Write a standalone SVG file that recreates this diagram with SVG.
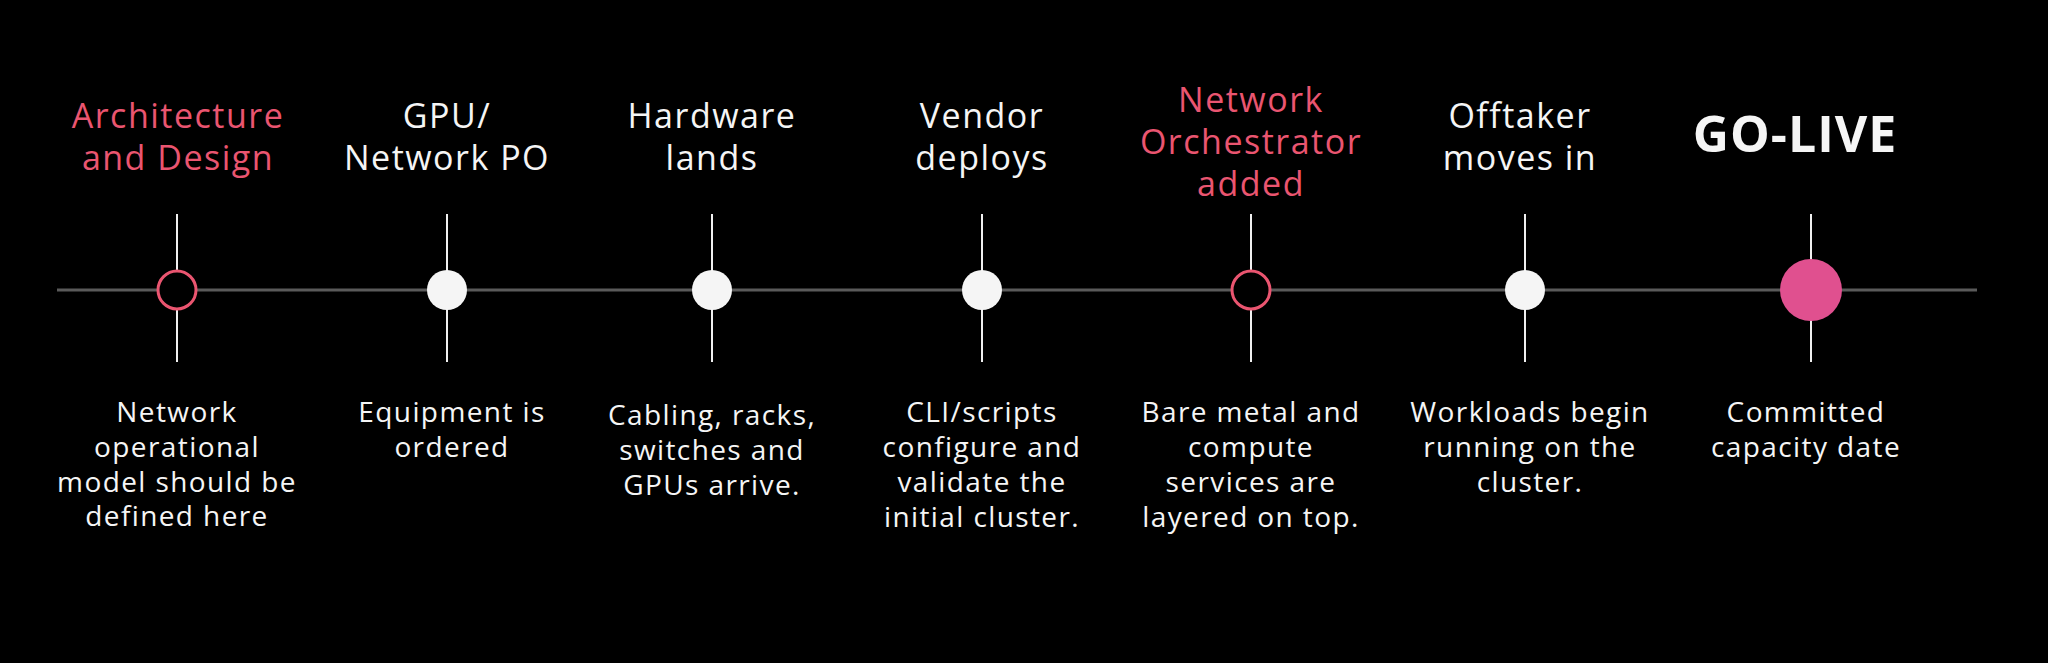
<svg xmlns="http://www.w3.org/2000/svg" width="2048" height="663" viewBox="0 0 2048 663">
<style>
.t{font-family:"Open Sans","Liberation Sans",sans-serif;font-size:34px;letter-spacing:1.5px;fill:#f5f5f5;text-anchor:middle}
.p{fill:#ea5570}
.d{font-family:"Open Sans","Liberation Sans",sans-serif;font-size:28px;letter-spacing:1.4px;fill:#f5f5f5;text-anchor:middle}
.tick{stroke:#f0f0f0;stroke-width:2}
.dot{fill:#f5f5f5}
.ring{fill:#000;stroke:#ea5570;stroke-width:3}
</style>
<rect width="2048" height="663" fill="#000"/>
<g id="connectors"><line x1="57" y1="290" x2="1977" y2="290" stroke="#5a5a5a" stroke-width="3"/></g>
<g id="n1"><line class="tick" x1="177" y1="214" x2="177" y2="362"/><circle class="ring" cx="177" cy="290" r="19"/>
<text class="t p" x="178" y="128">Architecture</text><text class="t p" x="178" y="170">and Design</text>
<text class="d" x="177" y="422">Network</text><text class="d" x="177" y="457">operational</text><text class="d" x="177" y="492">model should be</text><text class="d" x="177" y="526">defined here</text></g>
<g id="n2"><line class="tick" x1="447" y1="214" x2="447" y2="362"/><circle class="dot" cx="447" cy="290" r="20"/>
<text class="t" x="447" y="128">GPU/</text><text class="t" x="447" y="170">Network PO</text>
<text class="d" x="452" y="422">Equipment is</text><text class="d" x="452" y="457">ordered</text></g>
<g id="n3"><line class="tick" x1="712" y1="214" x2="712" y2="362"/><circle class="dot" cx="712" cy="290" r="20"/>
<text class="t" x="712" y="128">Hardware</text><text class="t" x="712" y="170">lands</text>
<text class="d" x="712" y="425">Cabling, racks,</text><text class="d" x="712" y="460">switches and</text><text class="d" x="712" y="495">GPUs arrive.</text></g>
<g id="n4"><line class="tick" x1="982" y1="214" x2="982" y2="362"/><circle class="dot" cx="982" cy="290" r="20"/>
<text class="t" x="982" y="128">Vendor</text><text class="t" x="982" y="170">deploys</text>
<text class="d" x="982" y="422">CLI/scripts</text><text class="d" x="982" y="457">configure and</text><text class="d" x="982" y="492">validate the</text><text class="d" x="982" y="527">initial cluster.</text></g>
<g id="n5"><line class="tick" x1="1251" y1="214" x2="1251" y2="362"/><circle class="ring" cx="1251" cy="290" r="19"/>
<text class="t p" x="1251" y="112">Network</text><text class="t p" x="1251" y="154">Orchestrator</text><text class="t p" x="1251" y="196">added</text>
<text class="d" x="1251" y="422">Bare metal and</text><text class="d" x="1251" y="457">compute</text><text class="d" x="1251" y="492">services are</text><text class="d" x="1251" y="527">layered on top.</text></g>
<g id="n6"><line class="tick" x1="1525" y1="214" x2="1525" y2="362"/><circle class="dot" cx="1525" cy="290" r="20"/>
<text class="t" x="1520" y="128">Offtaker</text><text class="t" x="1520" y="170">moves in</text>
<text class="d" x="1530" y="422">Workloads begin</text><text class="d" x="1530" y="457">running on the</text><text class="d" x="1530" y="492">cluster.</text></g>
<g id="n7"><line class="tick" x1="1811" y1="214" x2="1811" y2="362"/><circle cx="1811" cy="290" r="31" fill="#e0508f"/>
<text class="t" x="1795" y="152" style="font-size:50px;font-weight:bold;letter-spacing:1px">GO-LIVE</text>
<text class="d" x="1806" y="422">Committed</text><text class="d" x="1806" y="457">capacity date</text></g>
</svg>
